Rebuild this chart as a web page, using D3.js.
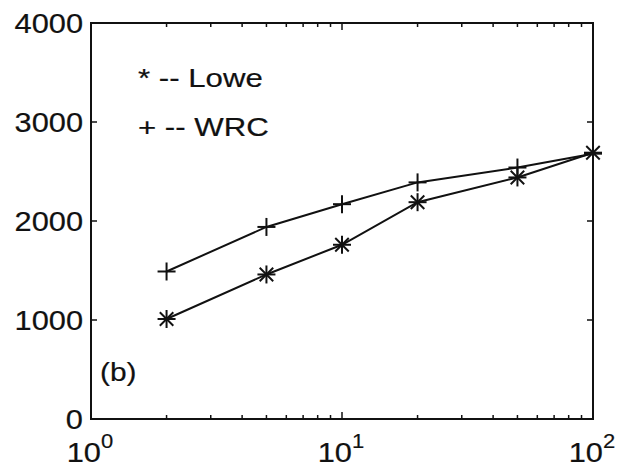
<!DOCTYPE html>
<html><head><meta charset="utf-8">
<script src="https://cdn.jsdelivr.net/npm/d3@7"></script>
<style>body{margin:0;background:#fff}svg{display:block}text{font-family:"Liberation Sans",Arial,sans-serif;fill:#111;stroke:#111;stroke-width:0.2}</style>
</head><body>
<script>
const xValues = [2, 5, 10, 20, 50, 100];
const loweValues = [1010, 1460, 1760, 2190, 2440, 2690];
const wrcValues = [1490, 1940, 2170, 2390, 2540, 2680];
const yTicks = [0, 1000, 2000, 3000, 4000];
const xTickExps = [0, 1, 2];
const legendLabels = ["* -- Lowe", "+ -- WRC"];
const panelLabel = "(b)";

const W = 631, H = 471;
const m = {left: 91, right: 38, top: 23, bottom: 52};
const svg = d3.select("body").append("svg").attr("width", W).attr("height", H);
const x = d3.scaleLog().domain([1, 100]).range([m.left, W - m.right]);
const y = d3.scaleLinear().domain([0, 4000]).range([H - m.bottom, m.top]);
const ink = "#111";

svg.append("rect").attr("x", x(1)).attr("y", y(4000))
  .attr("width", x(100) - x(1)).attr("height", y(0) - y(4000))
  .attr("fill", "none").attr("stroke", ink).attr("stroke-width", 2);

const xt = [];
for (let d = 0; d < 2; d++) for (let k = 1; k <= 9; k++) xt.push(k * Math.pow(10, d));
xt.push(100);
xt.forEach(v => {
  const len = (Math.log10(v) % 1 === 0) ? 7 : 4;
  svg.append("line").attr("x1", x(v)).attr("x2", x(v)).attr("y1", y(0)).attr("y2", y(0) - len).attr("stroke", ink).attr("stroke-width", 1.5);
  svg.append("line").attr("x1", x(v)).attr("x2", x(v)).attr("y1", y(4000)).attr("y2", y(4000) + len).attr("stroke", ink).attr("stroke-width", 1.5);
});
yTicks.forEach(v => {
  svg.append("line").attr("x1", x(1)).attr("x2", x(1) + 6).attr("y1", y(v)).attr("y2", y(v)).attr("stroke", ink).attr("stroke-width", 1.5);
  svg.append("line").attr("x1", x(100)).attr("x2", x(100) - 6).attr("y1", y(v)).attr("y2", y(v)).attr("stroke", ink).attr("stroke-width", 1.5);
  svg.append("text").attr("text-anchor", "end")
    .attr("transform", `translate(${x(1) - 8},${y(v) + 10}) scale(1.1,1)`)
    .attr("font-size", 28).text(v);
});
xTickExps.forEach(e => {
  const t = svg.append("text").attr("text-anchor", "middle")
    .attr("transform", `translate(${x(Math.pow(10, e)) - 1},${H - 9}) scale(1.1,1)`)
    .attr("font-size", 28);
  t.append("tspan").text("10");
  t.append("tspan").attr("font-size", 20).attr("dy", -14).text(e);
});

const line = d3.line().x(d => x(d[0])).y(d => y(d[1]));
[loweValues, wrcValues].forEach(vals => {
  svg.append("path").datum(xValues.map((v, i) => [v, vals[i]]))
    .attr("d", line).attr("fill", "none").attr("stroke", ink).attr("stroke-width", 2);
});
const r = 9;
function plus(g, cx, cy) {
  g.append("line").attr("x1", cx - r).attr("x2", cx + r).attr("y1", cy).attr("y2", cy);
  g.append("line").attr("x1", cx).attr("x2", cx).attr("y1", cy - r).attr("y2", cy + r);
}
function star(g, cx, cy) {
  plus(g, cx, cy);
  const d = r * 0.75;
  g.append("line").attr("x1", cx - d).attr("x2", cx + d).attr("y1", cy - d).attr("y2", cy + d);
  g.append("line").attr("x1", cx - d).attr("x2", cx + d).attr("y1", cy + d).attr("y2", cy - d);
}
const gm = svg.append("g").attr("stroke", ink).attr("stroke-width", 2);
xValues.forEach((v, i) => {
  star(gm, x(v), y(loweValues[i]));
  plus(gm, x(v), y(wrcValues[i]));
});

legendLabels.forEach((s, i) => {
  svg.append("text").attr("transform", `translate(138,${87 + i * 49}) scale(1.2,1)`)
    .attr("font-size", 26).text(s);
});
svg.append("text").attr("transform", `translate(100,381) scale(1.15,1)`)
  .attr("font-size", 26).text(panelLabel);
</script>
</body></html>
